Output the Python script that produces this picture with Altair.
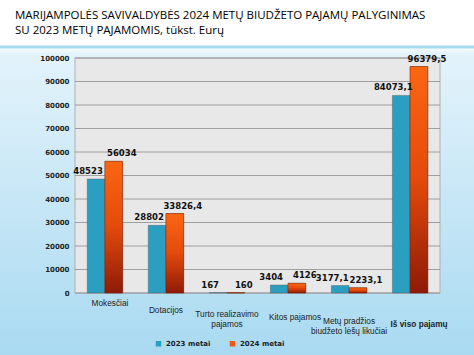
import altair as alt
import pandas as pd

categories = ["Mokesčiai", "Dotacijos", "Turto realizavimo|pajamos", "Kitos pajamos",
              "Metų pradžios|biudžeto lėšų likučiai", "Iš viso pajamų"]
series = ["2023 metai", "2024 metai"]
values_2023 = [48523, 28802, 167, 3404, 3177.1, 84073.1]
values_2024 = [56034, 33826.4, 160, 4126, 2233.1, 96379.5]
y_ticks = [0, 10000, 20000, 30000, 40000, 50000, 60000, 70000, 80000, 90000, 100000]
title_text = "MARIJAMPOLĖS SAVIVALDYBĖS 2024 METŲ BIUDŽETO PAJAMŲ PALYGINIMAS\nSU 2023 METŲ PAJAMOMIS, tūkst. Eurų"

rows = []
for c, a, b in zip(categories, values_2023, values_2024):
    rows.append({"cat": c, "series": series[0], "value": a, "label": f"{a:g}".replace(".", ",")})
    rows.append({"cat": c, "series": series[1], "value": b, "label": f"{b:g}".replace(".", ",")})
df = pd.DataFrame(rows)
ticks_df = pd.DataFrame({"tick": y_ticks})

W, H = 365, 235
one = pd.DataFrame({"a": [0]})

# per-label perspective shift of the category labels (style only)
lab_pad = [5, 12, 16, 19, 23, 26]
lab_off = [5, 0, 0, 7, 0, 9]


def cond(vals, default):
    return {"condition": [{"test": f"datum.value == '{c}'", "value": v} for c, v in zip(categories, vals)],
            "value": default}


yaxis = alt.Axis(title=None, values=y_ticks, format="d", domain=False, ticks=False, grid=False,
                 zindex=1, labelFont="DejaVu Sans", labelFontWeight="bold", labelFontSize=7,
                 labelColor="#222222", labelPadding=6, labelOverlap=False)
yscale = alt.Scale(domain=[0, 100000], nice=False)

bg = alt.Chart(one).mark_rect(
    color=alt.LinearGradient(gradient="linear", x1=0, y1=0, x2=0, y2=1,
                             stops=[alt.GradientStop(color="#ffffff", offset=0),
                                    alt.GradientStop(color="#ffffff", offset=0.13),
                                    alt.GradientStop(color="#e3f3fb", offset=0.15),
                                    alt.GradientStop(color="#a9daf1", offset=1)])
).encode(x=alt.value(-75), x2=alt.value(W + 34), y=alt.value(-58), y2=alt.value(H + 62))

sep = alt.Chart(one).mark_rule(color="#a6dbee", strokeWidth=3).encode(
    x=alt.value(-75), x2=alt.value(W + 34), y=alt.value(-11))

title = alt.Chart(one).mark_text(
    align="left", baseline="top", lineBreak="\n", font="Open Sans", fontSize=11.5,
    color="#000000", lineHeight=15
).encode(x=alt.value(-60), y=alt.value(-48), text=alt.value(title_text))

plotbg = alt.Chart(one).mark_rect(color="#e8e8e8", stroke="#b0b0b0", strokeWidth=1).encode(
    x=alt.value(0), x2=alt.value(W), y=alt.value(0), y2=alt.value(H))

grid = alt.Chart(ticks_df).mark_rule(color="#8c8c8c", strokeWidth=0.8).encode(
    y=alt.Y("tick:Q", scale=yscale, axis=yaxis),
    x=alt.value(0), x2=alt.value(W))

xenc = alt.X("cat:N", sort=categories, scale=alt.Scale(paddingInner=0.42, paddingOuter=0.2),
             axis=alt.Axis(title=None, labelAngle=0, domain=False, ticks=False, zindex=1,
                           labelExpr="split(datum.label, '|')", labelFont="Liberation Sans",
                           labelFontSize=8.3, labelColor="#222222", labelLimit=200, labelLineHeight=10,
                           labelOverlap=False, labelBaseline="top",
                           labelPadding=cond(lab_pad, 5), labelOffset=cond(lab_off, 0),
                           labelFontWeight={"condition": {"test": "datum.value == 'Iš viso pajamų'", "value": "bold"}, "value": "normal"}))
yenc = alt.Y("value:Q", scale=yscale, axis=yaxis)

bars = alt.Chart(df).mark_bar(stroke="#555555", strokeWidth=0.4).encode(
    x=xenc, y=yenc, xOffset=alt.XOffset("series:N", sort=series),
    color=alt.Color("series:N", sort=series,
                    scale=alt.Scale(domain=series, range=["#2a9fc2", "#ee5a12"]),
                    legend=alt.Legend(title=None, orient="none", legendX=80, legendY=H + 47,
                                      direction="horizontal", symbolType="square", symbolSize=30,
                                      labelFont="DejaVu Sans", labelFontWeight="bold", labelFontSize=7,
                                      labelColor="#222222", columnPadding=18, symbolStrokeWidth=0)))

bars24 = alt.Chart(df[df["series"] == series[1]]).mark_bar(
    color=alt.LinearGradient(gradient="linear", x1=0, y1=0, x2=0, y2=1,
                             stops=[alt.GradientStop(color="#fb6612", offset=0),
                                    alt.GradientStop(color="#e34a0c", offset=0.5),
                                    alt.GradientStop(color="#8e1a06", offset=1)]),
    stroke="#6a1a08", strokeWidth=0.4
).encode(x=alt.X("cat:N", sort=categories), y=yenc,
         xOffset=alt.XOffset("series:N", sort=series, scale=alt.Scale(domain=series)))

lab23 = alt.Chart(df[df["series"] == series[0]]).mark_text(
    font="DejaVu Sans", fontWeight="bold", fontSize=8.5, color="#111111", baseline="bottom", dy=-3, dx=-8
).encode(x=alt.X("cat:N", sort=categories), y=yenc,
         xOffset=alt.XOffset("series:N", sort=series, scale=alt.Scale(domain=series)), text="label:N")

lab24 = alt.Chart(df[df["series"] == series[1]]).mark_text(
    font="DejaVu Sans", fontWeight="bold", fontSize=8.5, color="#111111", baseline="bottom", dy=-3, dx=8
).encode(x=alt.X("cat:N", sort=categories), y=yenc,
         xOffset=alt.XOffset("series:N", sort=series, scale=alt.Scale(domain=series)), text="label:N")

chart = alt.layer(bg, sep, title, plotbg, grid, bars, bars24, lab23, lab24).properties(
    width=W, height=H,
    autosize=alt.AutoSizeParams(type="none"),
    padding={"left": 75, "top": 58, "right": 34, "bottom": 62},
).configure_view(strokeWidth=0).configure(background="#ffffff")

chart.save("out.html", embed_options={"renderer": "svg", "actions": False})
